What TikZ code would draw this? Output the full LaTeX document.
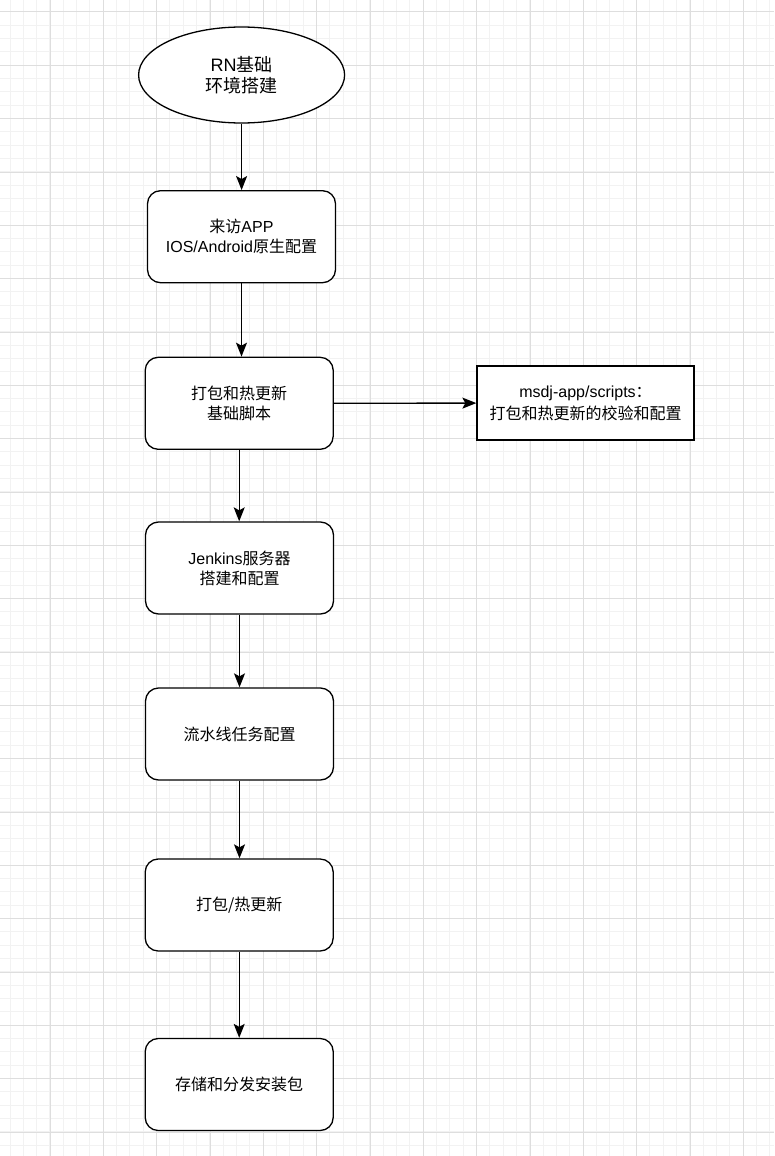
\documentclass[tikz,border=0pt]{standalone}
\usepackage{fontspec}
\setmainfont{Liberation Sans}
\newfontfamily\cjk{Noto Sans CJK SC}
\usetikzlibrary{shapes.geometric}
\usetikzlibrary{arrows.meta}
\tikzset{
  minorline/.style = {draw=black!5, line width=1pt},
  majorline/.style = {draw=black!13, line width=1pt},
  startnode/.style = {ellipse, draw=black, line width=1.3pt, fill=white, minimum width=206pt, minimum height=96pt, inner sep=0pt, align=center, font=\fontsize{18}{21}\selectfont},
  roundbox/.style = {rectangle, rounded corners=13pt, draw=black, line width=1.3pt, fill=white, minimum width=188pt, minimum height=92pt, inner sep=0pt, align=center, font=\fontsize{16}{20}\selectfont},
  sidebox/.style = {rectangle, draw=black, line width=1.3pt, fill=white, minimum width=217pt, minimum height=74pt, inner sep=0pt, align=center, font=\fontsize{16}{22}\selectfont},
  flow/.style = {draw=black, line width=1.3pt, arrows={-Stealth[length=14pt, width=11pt, inset=3pt, fill=black]}}
}

\begin{document}
\begin{tikzpicture}[x=1pt, y=-1pt]
\useasboundingbox (0,0) rectangle (774,1156);
\fill [white] (0,0) rectangle (774,1156);

% background grid
\foreach \i in {0,...,58}
  \draw [minorline] ({10+13.333*(\i-1)},0) -- ++(0,1156);
\foreach \j in {0,...,87}
  \draw [minorline] (0,{12+13.333*(\j-1)}) -- ++(774,0);
\foreach \i in {0,...,14}
  \draw [majorline] ({50+53.333*(\i-1)},0) -- ++(0,1156);
\foreach \j in {0,...,21}
  \draw [majorline] (0,{12+53.333*\j}) -- ++(774,0);

% steps
\node [startnode] (rn) at (241.6, 75) {RN{\cjk 基础}\\{\cjk 环境搭建}};
\node [roundbox] (app) at (241.5, 236.7) {{\cjk 来访}APP\\IOS/Android{\cjk 原生配置}};
\node [roundbox] (script) at (239.2, 403.3) {{\cjk 打包和热更新}\\{\cjk 基础脚本}};
\node [sidebox] (check) at (585.5, 403) {msdj-app/scripts{\cjk ：}\\{\cjk 打包和热更新的校验和配置}};
\node [roundbox] (jenkins) at (239.5, 568) {Jenkins{\cjk 服务器}\\{\cjk 搭建和配置}};
\node [roundbox] (pipeline) at (239.5, 734) {{\cjk 流水线任务配置}};
\node [roundbox] (build) at (239.2, 905) {{\cjk 打包/热更新}};
\node [roundbox] (store) at (239.2, 1084.5) {{\cjk 存储和分发安装包}};

% connectors
\draw [flow] (rn.south) -- (rn.south |- app.north);
\draw [flow] (app.south) -- (app.south |- script.north);
\draw [flow] (script) -- (check);
\draw [flow] (script.south) -- (script.south |- jenkins.north);
\draw [flow] (jenkins.south) -- (jenkins.south |- pipeline.north);
\draw [flow] (pipeline.south) -- (pipeline.south |- build.north);
\draw [flow] (build.south) -- (build.south |- store.north);
\end{tikzpicture}
\end{document}
